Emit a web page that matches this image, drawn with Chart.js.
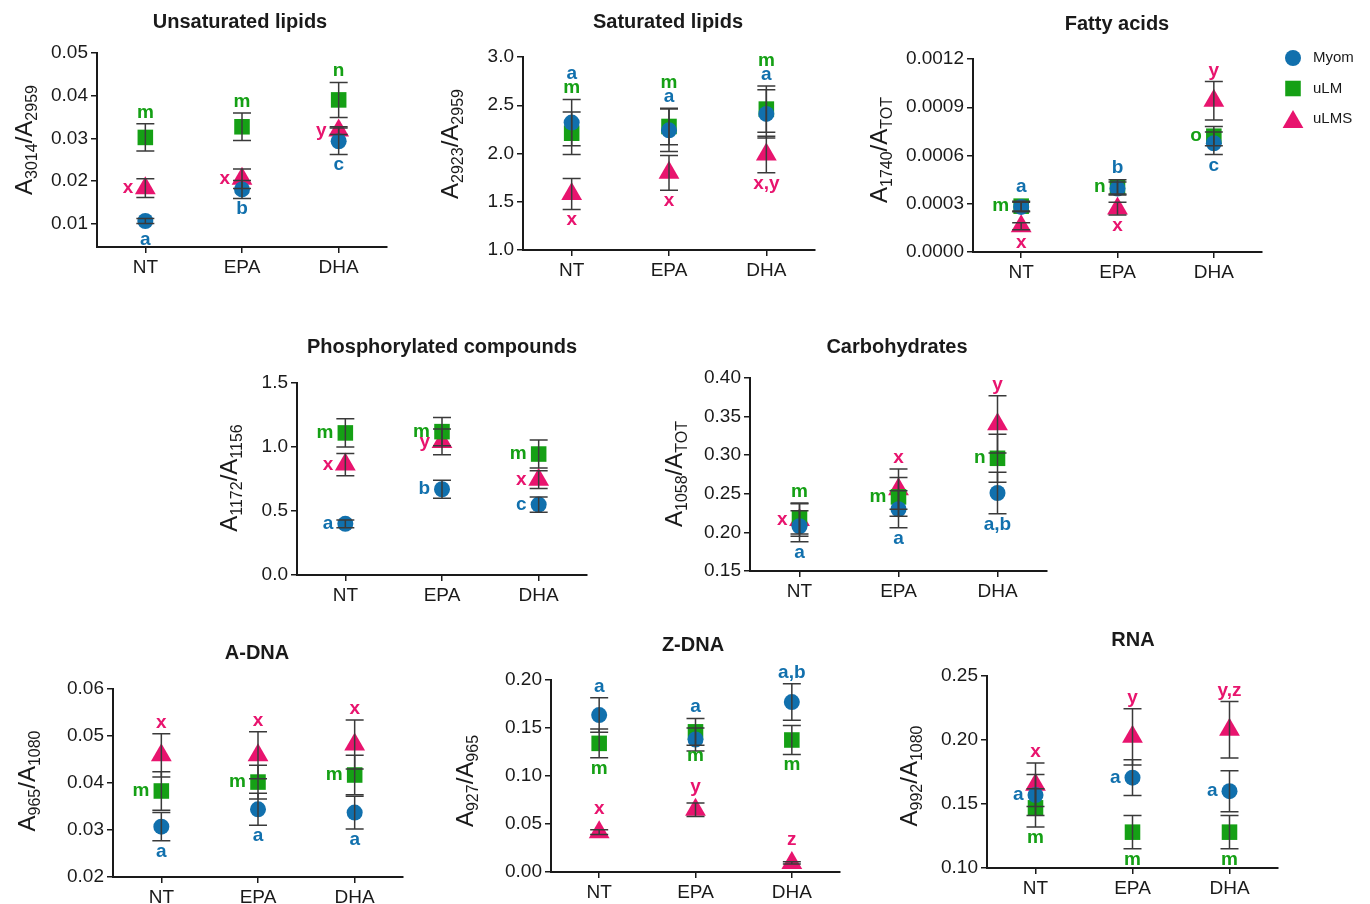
<!DOCTYPE html>
<html>
<head>
<meta charset="utf-8">
<title>FTIR band ratios</title>
<script src="https://cdn.jsdelivr.net/npm/chart.js@4.4.1/dist/chart.umd.min.js"></script>
<style>
  html, body { margin: 0; background: #fff; }
  #figure { position: relative; width: 1370px; height: 904px; overflow: hidden; }
  #figure canvas { position: absolute; left: 0; top: 0; }
</style>
</head>
<body>
<div id="figure"></div>
<script>
const groups = ["NT", "EPA", "DHA"];
const seriesNames = ["Myom", "uLM", "uLMS"];

// Unsaturated lipids
const unsatTicks = ["0.01", "0.02", "0.03", "0.04", "0.05"];
const unsatMyom = [0.0106, 0.0180, 0.0293];
const unsatMyomSem = [0.0006, 0.0021, 0.0031];
const unsatULM = [0.0302, 0.0327, 0.0390];
const unsatULMSem = [0.0032, 0.0032, 0.0041];
const unsatULMS = [0.0183, 0.0205, 0.0318];
const unsatULMSSem = [0.0022, 0.0023, 0.0009];
const unsatLetters = [["a", "b", "c"], ["m", "m", "n"], ["x", "x", "y"]];
const unsatSpots = [["b", "b", "b"], ["t", "t", "t"], ["l", "l", "l"]];

// Saturated lipids
const satTicks = ["1.0", "1.5", "2.0", "2.5", "3.0"];
const satMyom = [2.32, 2.24, 2.41];
const satMyomSem = [0.24, 0.22, 0.25];
const satULM = [2.21, 2.28, 2.46];
const satULMSem = [0.22, 0.19, 0.24];
const satULMS = [1.58, 1.80, 1.99];
const satULMSSem = [0.16, 0.18, 0.19];
const satLetters = [["a", "a", "a"], ["m", "m", "m"], ["x", "x", "x,y"]];
const satSpots = [["T2", "T", "T"], ["T", "T2", "T2"], ["b", "b", "b"]];

// Fatty acids
const fattyTicks = ["0.0000", "0.0003", "0.0006", "0.0009", "0.0012"];
const fattyMyom = [0.000280, 0.000395, 0.000676];
const fattyMyomSem = [0.000030, 0.000040, 0.000070];
const fattyULM = [0.000285, 0.000405, 0.000720];
const fattyULMSem = [0.000030, 0.000045, 0.000060];
const fattyULMS = [0.000160, 0.000270, 0.000940];
const fattyULMSSem = [0.000022, 0.000040, 0.000120];
const fattyLetters = [["a", "b", "c"], ["m", "n", "o"], ["x", "x", "y"]];
const fattySpots = [["T", "T", "b"], ["l", "l", "l"], ["b", "b", "t"]];

// Phosphorylated compounds
const phosTicks = ["0.0", "0.5", "1.0", "1.5"];
const phosMyom = [0.40, 0.67, 0.55];
const phosMyomSem = [0.03, 0.07, 0.06];
const phosULM = [1.11, 1.12, 0.945];
const phosULMSem = [0.11, 0.11, 0.11];
const phosULMS = [0.863, 1.04, 0.745];
const phosULMSSem = [0.087, 0.10, 0.07];
const phosLetters = [["a", "b", "c"], ["m", "m", "m"], ["x", "y", "x"]];
const phosSpots = [["l", "l", "l"], ["l", "l", "l"], ["l", "l", "l"]];

// Carbohydrates
const carbTicks = ["0.15", "0.20", "0.25", "0.30", "0.35", "0.40"];
const carbMyom = [0.208, 0.230, 0.251];
const carbMyomSem = [0.020, 0.024, 0.027];
const carbULM = [0.218, 0.246, 0.296];
const carbULMSem = [0.020, 0.025, 0.031];
const carbULMS = [0.216, 0.256, 0.340];
const carbULMSSem = [0.021, 0.026, 0.037];
const carbLetters = [["a", "a", "a,b"], ["m", "m", "n"], ["x", "x", "y"]];
const carbSpots = [["b", "b", "b"], ["T", "l", "l"], ["l", "t", "t"]];

// A-DNA
const adnaTicks = ["0.02", "0.03", "0.04", "0.05", "0.06"];
const adnaMyom = [0.0307, 0.0344, 0.0337];
const adnaMyomSem = [0.0030, 0.0034, 0.0035];
const adnaULM = [0.0383, 0.0402, 0.0417];
const adnaULMSem = [0.0041, 0.0036, 0.0042];
const adnaULMS = [0.0459, 0.0459, 0.0482];
const adnaULMSSem = [0.0046, 0.0050, 0.0052];
const adnaLetters = [["a", "a", "a"], ["m", "m", "m"], ["x", "x", "x"]];
const adnaSpots = [["b", "b", "b"], ["l", "l", "l"], ["t", "t", "t"]];

// Z-DNA
const zdnaTicks = ["0.00", "0.05", "0.10", "0.15", "0.20"];
const zdnaMyom = [0.1635, 0.138, 0.177];
const zdnaMyomSem = [0.018, 0.012, 0.019];
const zdnaULM = [0.134, 0.146, 0.1375];
const zdnaULMSem = [0.015, 0.014, 0.015];
const zdnaULMS = [0.0415, 0.0648, 0.0095];
const zdnaULMSSem = [0.0025, 0.0070, 0.0012];
const zdnaLetters = [["a", "a", "a,b"], ["m", "m", "m"], ["x", "y", "z"]];
const zdnaSpots = [["T", "T", "T"], ["b", "b", "b"], ["t", "t", "t"]];

// RNA
const rnaTicks = ["0.10", "0.15", "0.20", "0.25"];
const rnaMyom = [0.157, 0.1706, 0.160];
const rnaMyomSem = [0.016, 0.014, 0.016];
const rnaULM = [0.147, 0.128, 0.128];
const rnaULMSem = [0.015, 0.013, 0.013];
const rnaULMS = [0.165, 0.2025, 0.208];
const rnaULMSSem = [0.017, 0.022, 0.022];
const rnaLetters = [["a", "a", "a"], ["m", "m", "m"], ["x", "y", "y,z"]];
const rnaSpots = [["l", "l", "l"], ["b", "b", "b"], ["t", "t", "t"]];

const FONT = "Arial, 'Liberation Sans', Helvetica, sans-serif";
const INK = "#1a1a1a";
const BAR = "#3a3a3a";
const seriesColors = ["#1170ad", "#15a015", "#e8146e"];
const seriesShapes = ["circle", "rect", "triangle"];
const seriesRadius = [8, 11, 12];
const AXIS_W = 90;
const AXIS_H = 40;

const panels = [
  { title: "Unsaturated lipids", num: "3014", den: "2959", ticks: unsatTicks, min: 0.0045,
    means: [unsatMyom, unsatULM, unsatULMS], sems: [unsatMyomSem, unsatULMSem, unsatULMSSem],
    letters: unsatLetters, spots: unsatSpots,
    box: [97, 53, 387, 247], titleAt: [240, 22], labelAt: [32, 140] },
  { title: "Saturated lipids", num: "2923", den: "2959", ticks: satTicks, min: 1.0,
    means: [satMyom, satULM, satULMS], sems: [satMyomSem, satULMSem, satULMSSem],
    letters: satLetters, spots: satSpots,
    box: [523, 57, 815, 250], titleAt: [668, 22], labelAt: [458, 144] },
  { title: "Fatty acids", num: "1740", den: "TOT", ticks: fattyTicks, min: 0,
    means: [fattyMyom, fattyULM, fattyULMS], sems: [fattyMyomSem, fattyULMSem, fattyULMSSem],
    letters: fattyLetters, spots: fattySpots, legend: true,
    box: [973, 59, 1262, 252], titleAt: [1117, 24], labelAt: [887, 150] },
  { title: "Phosphorylated compounds", num: "1172", den: "1156", ticks: phosTicks, min: 0,
    means: [phosMyom, phosULM, phosULMS], sems: [phosMyomSem, phosULMSem, phosULMSSem],
    letters: phosLetters, spots: phosSpots,
    box: [297, 383, 587, 575], titleAt: [442, 347], labelAt: [237, 478] },
  { title: "Carbohydrates", num: "1058", den: "TOT", ticks: carbTicks, min: 0.15,
    means: [carbMyom, carbULM, carbULMS], sems: [carbMyomSem, carbULMSem, carbULMSSem],
    letters: carbLetters, spots: carbSpots,
    box: [750, 378, 1047, 571], titleAt: [897, 347], labelAt: [682, 474] },
  { title: "A-DNA", num: "965", den: "1080", ticks: adnaTicks, min: 0.02,
    means: [adnaMyom, adnaULM, adnaULMS], sems: [adnaMyomSem, adnaULMSem, adnaULMSSem],
    letters: adnaLetters, spots: adnaSpots,
    box: [113, 689, 403, 877], titleAt: [257, 653], labelAt: [35, 781] },
  { title: "Z-DNA", num: "927", den: "965", ticks: zdnaTicks, min: 0,
    means: [zdnaMyom, zdnaULM, zdnaULMS], sems: [zdnaMyomSem, zdnaULMSem, zdnaULMSSem],
    letters: zdnaLetters, spots: zdnaSpots,
    box: [551, 680, 840, 872], titleAt: [693, 645], labelAt: [473, 781] },
  { title: "RNA", num: "992", den: "1080", ticks: rnaTicks, min: 0.10,
    means: [rnaMyom, rnaULM, rnaULMS], sems: [rnaMyomSem, rnaULMSem, rnaULMSSem],
    letters: rnaLetters, spots: rnaSpots,
    box: [987, 676, 1278, 868], titleAt: [1133, 640], labelAt: [917, 776] },
];

// how far a marker reaches above / below its centre
function markerReach(shape, r) {
  if (shape === "rect") return [r * Math.SQRT1_2, r * Math.SQRT1_2];
  if (shape === "triangle") return [r, r / 2];
  return [r, r];
}

function drawAxisLabel(ctx, x, y, num, den) {
  const parts = [["A", false], [num, true], ["/A", false], [den, true]];
  const big = `24px ${FONT}`;
  const small = `16px ${FONT}`;
  const widths = parts.map(([text, sub]) => {
    ctx.font = sub ? small : big;
    return ctx.measureText(text).width;
  });
  const total = widths.reduce((a, b) => a + b, 0);
  ctx.save();
  ctx.translate(x, y);
  ctx.rotate(-Math.PI / 2);
  ctx.fillStyle = INK;
  ctx.textAlign = "left";
  ctx.textBaseline = "alphabetic";
  let u = -total / 2;
  parts.forEach(([text, sub], i) => {
    ctx.font = sub ? small : big;
    ctx.fillText(text, u, sub ? 5 : 0);
    u += widths[i];
  });
  ctx.restore();
}

function panelPlugin(panel) {
  return {
    id: "panelDecor",
    afterDatasetsDraw(chart) {
      const { ctx } = chart;
      const yScale = chart.scales.y;
      const sets = chart.data.datasets;

      // error bars (mean ± SEM), drawn over the markers
      ctx.save();
      ctx.strokeStyle = BAR;
      ctx.lineWidth = 1.5;
      sets.forEach((ds, di) => {
        const meta = chart.getDatasetMeta(di);
        ds.data.forEach((v, i) => {
          const x = meta.data[i].x;
          const top = yScale.getPixelForValue(v + ds.sem[i]);
          const bot = yScale.getPixelForValue(v - ds.sem[i]);
          ctx.beginPath();
          ctx.moveTo(x, top);
          ctx.lineTo(x, bot);
          ctx.moveTo(x - 9, top);
          ctx.lineTo(x + 9, top);
          ctx.moveTo(x - 9, bot);
          ctx.lineTo(x + 9, bot);
          ctx.stroke();
        });
      });

      // significance letters
      const extent = sets.map((ds, di) => {
        const meta = chart.getDatasetMeta(di);
        const [up, down] = markerReach(ds.pointStyle, ds.pointRadius);
        return ds.data.map((v, i) => {
          const y = meta.data[i].y;
          return {
            x: meta.data[i].x,
            y,
            top: Math.min(yScale.getPixelForValue(v + ds.sem[i]), y - up),
            bottom: Math.max(yScale.getPixelForValue(v - ds.sem[i]), y + down),
          };
        });
      });
      const highest = groups.map((_, i) => Math.min(...extent.map((e) => e[i].top)));

      ctx.font = `bold 19px ${FONT}`;
      ctx.textBaseline = "alphabetic";
      sets.forEach((ds, di) => {
        ctx.fillStyle = ds.backgroundColor;
        ds.letters.forEach((letter, i) => {
          const p = extent[di][i];
          const spot = ds.spots[i];
          ctx.textAlign = spot === "l" ? "right" : "center";
          if (spot === "l") ctx.fillText(letter, p.x - 12, p.y + 5);
          else if (spot === "b") ctx.fillText(letter, p.x, p.bottom + 16);
          else if (spot === "t") ctx.fillText(letter, p.x, p.top - 6);
          else if (spot === "T") ctx.fillText(letter, p.x, highest[i] - 6);
          else if (spot === "T2") ctx.fillText(letter, p.x, highest[i] - 20);
        });
      });
      ctx.restore();
    },
    afterDraw(chart) {
      const { ctx } = chart;
      ctx.save();
      ctx.fillStyle = INK;
      ctx.font = `bold 20px ${FONT}`;
      ctx.textAlign = "center";
      ctx.textBaseline = "middle";
      ctx.fillText(panel.title, panel.titleAt[0], panel.titleAt[1]);
      ctx.restore();

      drawAxisLabel(ctx, panel.labelAt[0], panel.labelAt[1], panel.num, panel.den);

      if (panel.legend) {
        ctx.save();
        seriesNames.forEach((name, i) => {
          const y = 58 + i * 30.5;
          ctx.fillStyle = seriesColors[i];
          Chart.helpers.drawPoint(ctx, {
            pointStyle: seriesShapes[i],
            radius: seriesRadius[i],
            rotation: 0,
            borderWidth: 0,
          }, 1293, seriesShapes[i] === "triangle" ? y + 3 : y);
          ctx.fillStyle = INK;
          ctx.font = `15px ${FONT}`;
          ctx.textAlign = "left";
          ctx.textBaseline = "middle";
          ctx.fillText(name, 1313, y);
        });
        ctx.restore();
      }
    },
  };
}

function makePanel(panel) {
  const canvas = document.createElement("canvas");
  canvas.width = 1370;
  canvas.height = 904;
  document.getElementById("figure").appendChild(canvas);

  const [left, top, right, bottom] = panel.box;
  const tickValues = panel.ticks.map(Number);
  const axisGrid = {
    display: true,
    drawOnChartArea: false,
    drawTicks: true,
    tickLength: 6,
    color: INK,
    lineWidth: 1.5,
  };

  new Chart(canvas, {
    type: "line",
    data: {
      labels: groups,
      datasets: seriesNames.map((name, i) => ({
        label: name,
        data: panel.means[i],
        sem: panel.sems[i],
        letters: panel.letters[i],
        spots: panel.spots[i],
        showLine: false,
        pointStyle: seriesShapes[i],
        pointRadius: seriesRadius[i],
        pointBorderWidth: 0,
        backgroundColor: seriesColors[i],
        borderColor: seriesColors[i],
        clip: false,
      })),
    },
    options: {
      responsive: false,
      animation: false,
      events: [],
      layout: {
        autoPadding: false,
        padding: { left: left - AXIS_W, top, right: 1370 - right, bottom: 904 - bottom - AXIS_H },
      },
      plugins: {
        legend: { display: false },
        tooltip: { enabled: false },
      },
      scales: {
        x: {
          type: "category",
          offset: true,
          grid: { ...axisGrid, offset: false },
          border: { display: true, color: INK, width: 2 },
          ticks: { color: INK, padding: 3, font: { family: FONT, size: 19 } },
          afterFit: (scale) => { scale.height = AXIS_H; },
        },
        y: {
          min: panel.min,
          max: tickValues[tickValues.length - 1],
          grid: axisGrid,
          border: { display: true, color: INK, width: 2 },
          ticks: {
            color: INK,
            padding: 3,
            font: { family: FONT, size: 19 },
            callback: (value, index) => panel.ticks[index],
          },
          afterBuildTicks: (scale) => {
            scale.ticks = tickValues.map((value) => ({ value }));
          },
          afterFit: (scale) => { scale.width = AXIS_W; },
        },
      },
    },
    plugins: [panelPlugin(panel)],
  });
}

panels.forEach(makePanel);
</script>
</body>
</html>
